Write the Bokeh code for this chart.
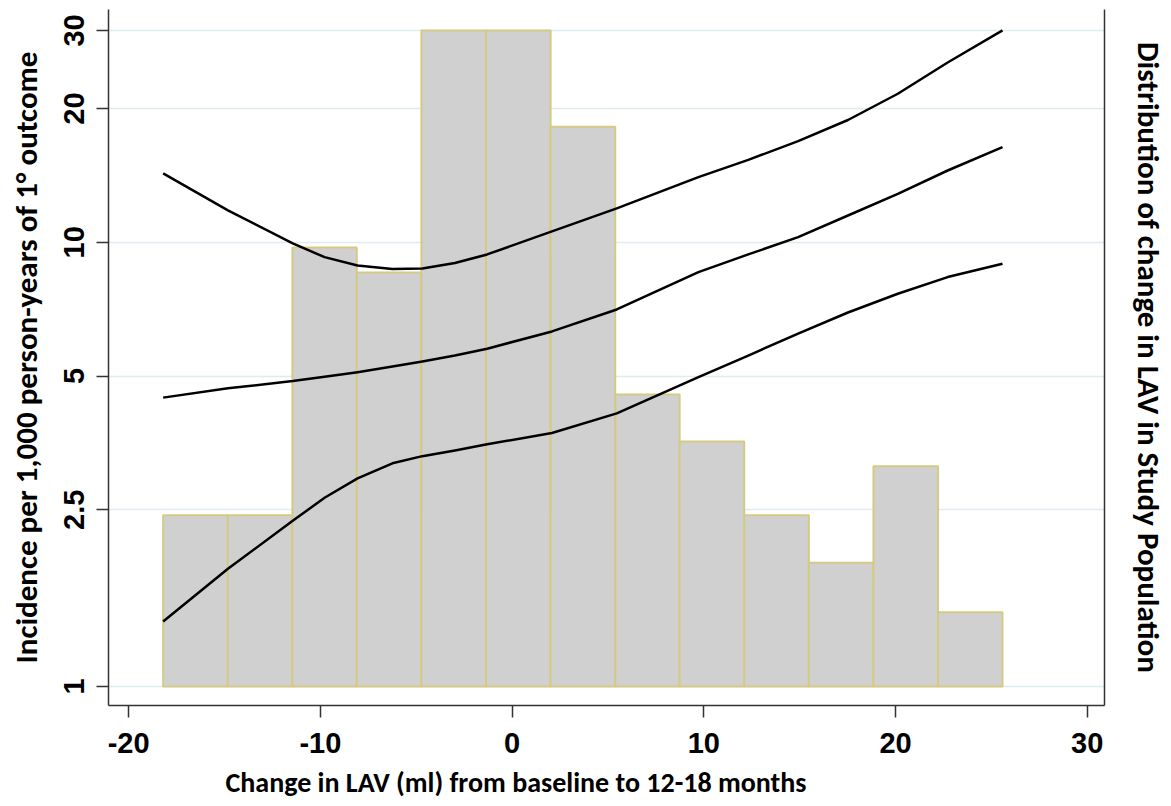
import math
from bokeh.plotting import figure
from bokeh.models import (Range1d, FixedTicker, LogAxis, CustomJSTickFormatter, Title)
from bokeh.embed import file_html
from bokeh.resources import INLINE

# ---- data ----
bin_edges = [-18.20, -14.83, -11.46, -8.10, -4.73, -1.36, 2.01, 5.38,
             8.74, 12.11, 15.48, 18.85, 22.22, 25.58]
bin_heights = [2.43, 2.43, 9.74, 8.55, 30.0, 30.0, 18.2, 4.54,
               3.56, 2.43, 1.90, 3.13, 1.47]

curve_x = [-18.20, -14.82, -11.44, -9.78, -8.06, -6.24, -4.68, -2.98, -1.30,
           2.08, 5.46, 9.72, 12.32, 14.92, 17.52, 20.12, 22.72, 25.58]
upper_ci = [14.29, 11.80, 9.94, 9.26, 8.87, 8.71, 8.73, 8.98, 9.39,
            10.58, 11.92, 14.02, 15.33, 16.90, 18.85, 21.60, 25.40, 30.0]
estimate = [4.47, 4.69, 4.87, 4.98, 5.10, 5.25, 5.39, 5.56, 5.76,
            6.30, 7.06, 8.57, 9.39, 10.27, 11.49, 12.86, 14.51, 16.38]
lower_ci = [1.40, 1.84, 2.36, 2.66, 2.94, 3.18, 3.30, 3.40, 3.51,
            3.72, 4.12, 4.97, 5.56, 6.23, 6.95, 7.66, 8.35, 8.95]

x_ticks = [-20, -10, 0, 10, 20, 30]
y_ticks = [1, 2.5, 5, 10, 20, 30]

x_title = "Change in LAV (ml) from baseline to 12-18 months"
y_title = "Incidence per 1,000 person-years of 1\u00b0 outcome"
y2_title = "Distribution of change in LAV in Study Population"

# ---- figure ----
TITLE_FONT = "Carlito, Lato, sans-serif"
SANS = "'Liberation Sans', Arial, sans-serif"

p = figure(width=1170, height=806, y_axis_type="log",
           x_range=Range1d(-21.05, 30.9), y_range=Range1d(0.906, 33.43),
           output_backend="svg", toolbar_location=None,
           min_border_left=108, min_border_right=63,
           min_border_top=9, min_border_bottom=101)
p.outline_line_color = None
p.background_fill_color = "white"
p.border_fill_color = "white"

# grid
p.xgrid.grid_line_color = None
p.ygrid.ticker = FixedTicker(ticks=y_ticks)
p.ygrid.grid_line_color = "#e0ebef"
p.ygrid.grid_line_width = 1.5

# histogram
p.quad(left=bin_edges[:-1], right=bin_edges[1:], bottom=1, top=bin_heights,
       fill_color="#d0d0d0", line_color="#d4ca84", line_width=2)

# curves
for ys in (upper_ci, estimate, lower_ci):
    p.line(curve_x, ys, line_color="black", line_width=2.5,
           line_join="round")

fmt = "return tick.toString();"

# x axis
xa = p.xaxis[0]
xa.ticker = FixedTicker(ticks=x_ticks)
xa.formatter = CustomJSTickFormatter(code=fmt)
xa.axis_line_color = "#333333"
xa.axis_line_width = 1.5
xa.major_tick_line_color = "#333333"
xa.major_tick_line_width = 1.5
xa.major_tick_out = 12
xa.major_tick_in = 0
xa.minor_tick_line_color = None
xa.major_label_text_font = SANS
xa.major_label_text_font_style = "bold"
xa.major_label_text_font_size = "29px"
xa.major_label_text_color = "black"
xa.major_label_standoff = 15

# x title (in the reference it sits left of the frame centre)
xt = Title(text=x_title, align="left", offset=117, standoff=14,
           text_font=TITLE_FONT, text_font_style="bold",
           text_font_size="28px", text_color="black")
p.add_layout(xt, "below")

# y axis
ya = p.yaxis[0]
ya.ticker = FixedTicker(ticks=y_ticks)
ya.formatter = CustomJSTickFormatter(code=fmt)
ya.axis_line_color = "#333333"
ya.axis_line_width = 1.5
ya.major_tick_line_color = "#333333"
ya.major_tick_line_width = 1.5
ya.major_tick_out = 12
ya.major_tick_in = 0
ya.minor_tick_line_color = None
ya.major_label_orientation = "vertical"
ya.major_label_text_font = SANS
ya.major_label_text_font_style = "bold"
ya.major_label_text_font_size = "29px"
ya.major_label_text_color = "black"
ya.major_label_standoff = 12
ya.axis_label = y_title
ya.axis_label_text_font = TITLE_FONT
ya.axis_label_text_font_style = "bold"
ya.axis_label_text_font_size = "31px"
ya.axis_label_text_color = "black"
ya.axis_label_standoff = 17

# right axis (line + title only)
ra = LogAxis(ticker=FixedTicker(ticks=[]), axis_label=y2_title)
ra.axis_line_color = "#333333"
ra.axis_line_width = 1.5
ra.major_tick_out = 0
ra.major_tick_in = 0
ra.minor_tick_line_color = None
ra.major_label_standoff = 0
ra.major_label_text_font_size = "0px"
ra.axis_label_text_font = TITLE_FONT
ra.axis_label_text_font_style = "bold"
ra.axis_label_text_font_size = "31px"
ra.axis_label_text_color = "black"
ra.axis_label_standoff = 25
p.add_layout(ra, "right")

open("out.html", "w").write(file_html(p, INLINE))
